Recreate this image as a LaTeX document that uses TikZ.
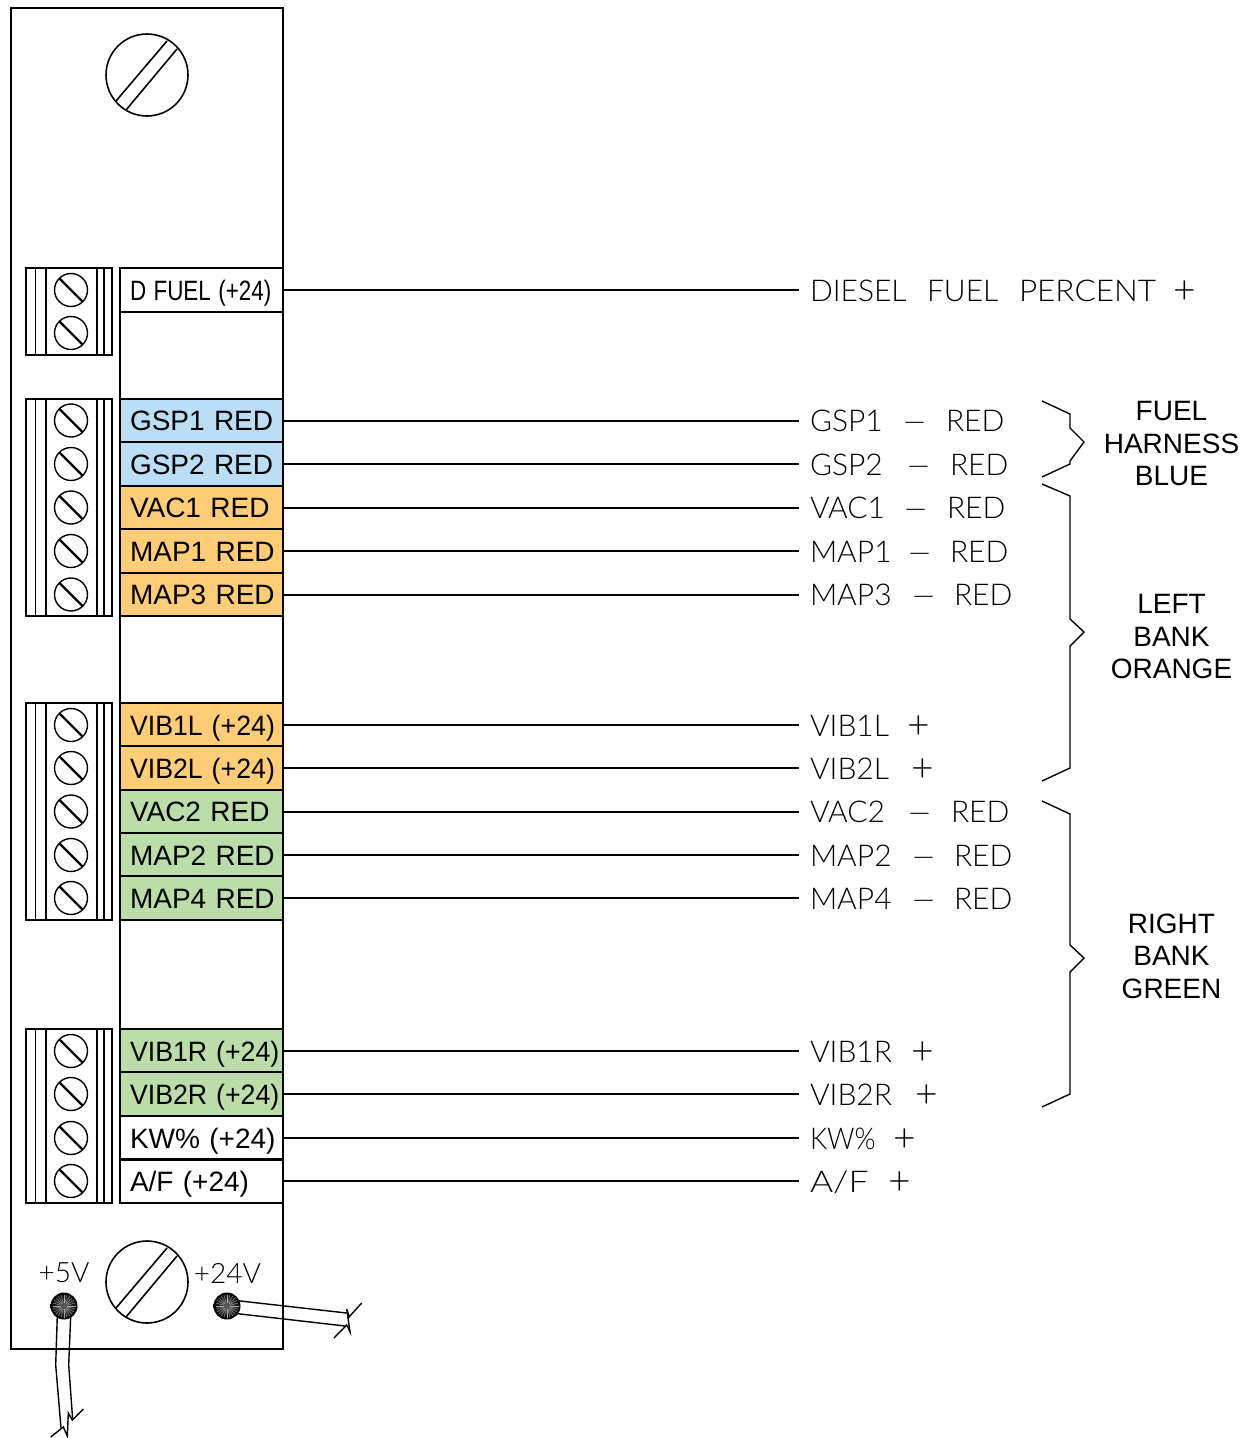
\documentclass[tikz,border=0pt]{standalone}
\usepackage{fontspec}
\setmainfont{Liberation Sans}
\newfontfamily\cadfont{Lato Light}
\usetikzlibrary{calc}
\definecolor{bluefill}{HTML}{BBDEF6}
\definecolor{orangefill}{HTML}{FFCC77}
\definecolor{greenfill}{HTML}{BBDDAA}
\tikzset{
  x=1pt,y=-1pt,
  panelline/.style={line width=1.7pt,draw=black},
  thinline/.style={line width=1.4pt,draw=black},
  conn/.style={line width=1.6pt,draw=black},
  tagbox/.style={draw=black,line width=1.6pt,outer sep=0pt,minimum width=163pt,minimum height=43.5pt,text width=143pt,inner xsep=10pt,inner ysep=0pt,align=left,anchor=west,font=\fontsize{28}{30}\selectfont,text height=20pt,text depth=0pt},
  cadlabel/.style={anchor=west,inner xsep=11pt,inner ysep=0pt,outer sep=0pt,font=\fontsize{30}{32}\cadfont,text height=22pt,text depth=0pt},
  grouplabel/.style={align=center,font=\fontsize{28}{32.4}\selectfont},
  screwhead/.style={circle,draw=black,line width=1.4pt,minimum size=33pt,inner sep=0pt},
  bigscrew/.style={circle,draw=black,line width=1.6pt,minimum size=82pt,inner sep=0pt},
  stud/.style={circle,minimum size=27pt,inner sep=0pt,shading=radial,inner color=gray!75!black,outer color=black},
  smalllabel/.style={font=\fontsize{28}{30}\cadfont},
}
% text at fixed offsets from the label's start
\newcommand{\cadplus}{\raisebox{-2pt}{\scalebox{1.3}{+}}}
\newcommand{\caddash}{\scalebox{1.55}[1]{–}}
\newcommand{\cadred}[3]{\rlap{#1}\hspace{#2pt}\rlap{\caddash}\hspace{#3pt}RED}
\newcommand{\cadpos}[2]{\rlap{#1}\hspace{#2pt}\cadplus}
\newcommand{\tagtxt}[2]{\rlap{\scalebox{#1}[1]{#2}}}
\newcommand{\terminalblock}[2]{%
  \draw[thinline] (26,#1) rectangle (112,#2);
  \foreach \xx in {35.5,46,97,104} \draw[thinline] (\xx,#1) -- (\xx,#2);
}
\newcommand{\screwat}[2]{%
  \node[screwhead] (#1) at (71,#2) {};
  \draw[line width=2.4pt] ($(#1)+(-11.5,-11.5)$) -- ($(#1)+(11.5,11.5)$);
}
\newcommand{\slotted}[1]{%
  \draw[line width=1.6pt] ($(#1)+(-31,26)$) -- ($(#1)+(20,-34)$);
  \draw[line width=1.6pt] ($(#1)+(-21,35)$) -- ($(#1)+(30,-26)$);
}
\newcommand{\studrays}[1]{%
  \foreach \aa in {0,15,...,345}
    \draw[gray!70,line width=.35pt] ($(#1)+(\aa:3)$) -- ($(#1)+(\aa:11.5)$);
}
\begin{document}
\begin{tikzpicture}
\useasboundingbox (0,0) rectangle (1248,1438);
% panel
\draw[panelline] (11,8) rectangle (283,1349);
\draw[thinline] (120,268) -- (120,1203);
% big screws
\node[bigscrew] (topscrew) at (147,75) {};
\slotted{topscrew}
\node[bigscrew] (botscrew) at (147,1282) {};
\slotted{botscrew}
% terminal blocks
\terminalblock{268}{355}
\terminalblock{399}{616}
\terminalblock{703}{920}
\terminalblock{1029}{1203}
\screwat{s1}{290}\screwat{s2}{333}
\screwat{s3}{420.5}\screwat{s4}{464}\screwat{s5}{507.5}\screwat{s6}{551}\screwat{s7}{594.5}
\screwat{s8}{725}\screwat{s9}{768}\screwat{s10}{811.5}\screwat{s11}{855}\screwat{s12}{898}
\screwat{s13}{1051}\screwat{s14}{1094}\screwat{s15}{1138}\screwat{s16}{1181}
% tags
\node[tagbox] (dfuel) at (120,290) {\tagtxt{.80}{D FUEL (+24)}};
\node[tagbox,fill=bluefill] (gsp1) at (120,420.5) {\tagtxt{1}{GSP1 RED}};
\node[tagbox,fill=bluefill] (gsp2) at (120,464) {\tagtxt{1}{GSP2 RED}};
\node[tagbox,fill=orangefill] (vac1) at (120,507.5) {\tagtxt{1}{VAC1 RED}};
\node[tagbox,fill=orangefill] (map1) at (120,551) {\tagtxt{1}{MAP1 RED}};
\node[tagbox,fill=orangefill] (map3) at (120,594.5) {\tagtxt{1}{MAP3 RED}};
\node[tagbox,fill=orangefill] (vib1l) at (120,725) {\tagtxt{.955}{VIB1L (+24)}};
\node[tagbox,fill=orangefill] (vib2l) at (120,768) {\tagtxt{.955}{VIB2L (+24)}};
\node[tagbox,fill=greenfill] (vac2) at (120,811.5) {\tagtxt{1}{VAC2 RED}};
\node[tagbox,fill=greenfill] (map2) at (120,855) {\tagtxt{1}{MAP2 RED}};
\node[tagbox,fill=greenfill] (map4) at (120,898) {\tagtxt{1}{MAP4 RED}};
\node[tagbox,fill=greenfill] (vib1r) at (120,1051) {\tagtxt{.955}{VIB1R (+24)}};
\node[tagbox,fill=greenfill] (vib2r) at (120,1094) {\tagtxt{.955}{VIB2R (+24)}};
\node[tagbox] (kw) at (120,1138) {\tagtxt{1}{KW\% (+24)}};
\node[tagbox] (af) at (120,1181) {\tagtxt{1}{A/F (+24)}};
% right labels
\node[cadlabel] (Ldfuel) at (799,290) {\rlap{DIESEL}\hspace{117pt}\rlap{FUEL}\hspace{92pt}\rlap{\scalebox{1.05}[1]{PERCENT}}\hspace{154pt}\cadplus};
\node[cadlabel] (Lgsp1) at (799,420.5) {\cadred{GSP1}{91}{45}};
\node[cadlabel] (Lgsp2) at (799,464) {\cadred{GSP2}{95}{45}};
\node[cadlabel] (Lvac1) at (799,507.5) {\cadred{VAC1}{92}{45}};
\node[cadlabel] (Lmap1) at (799,551) {\cadred{MAP1}{96}{44}};
\node[cadlabel] (Lmap3) at (799,594.5) {\cadred{MAP3}{100}{44}};
\node[cadlabel] (Lvib1l) at (799,725) {\cadpos{VIB1L}{97}};
\node[cadlabel] (Lvib2l) at (799,768) {\cadpos{VIB2L}{101}};
\node[cadlabel] (Lvac2) at (799,811.5) {\cadred{VAC2}{96}{45}};
\node[cadlabel] (Lmap2) at (799,855) {\cadred{MAP2}{100}{44}};
\node[cadlabel] (Lmap4) at (799,898) {\cadred{MAP4}{100}{44}};
\node[cadlabel] (Lvib1r) at (799,1051) {\cadpos{VIB1R}{101}};
\node[cadlabel] (Lvib2r) at (799,1094) {\cadpos{VIB2R}{105}};
\node[cadlabel] (Lkw) at (799,1138) {\cadpos{\scalebox{.9}[1]{KW\%}}{83}};
\node[cadlabel] (Laf) at (799,1181) {\cadpos{\scalebox{1.18}[1]{A/F}}{78}};
% connectors: same pixel phase on every row
\foreach \n/\m in {dfuel/Ldfuel,gsp1/Lgsp1,gsp2/Lgsp2,vac1/Lvac1,map1/Lmap1,map3/Lmap3,vib1l/Lvib1l,vib2l/Lvib2l,vac2/Lvac2,map2/Lmap2,map4/Lmap4,vib1r/Lvib1r,vib2r/Lvib2r,kw/Lkw,af/Laf}
  \draw[conn] ([yshift=-.2pt]\n.east) -- ([yshift=-.2pt]\m.west);
% braces
\draw[thinline] (1042,401) -- (1070,414) -- (1070,428) -- (1084,442) -- (1070,461) -- (1070,464) -- (1042,477);
\draw[thinline] (1042,484) -- (1070,496) -- (1070,619) -- (1084,632) -- (1070,646) -- (1070,768) -- (1042,781);
\draw[thinline] (1042,801) -- (1070,814) -- (1070,945) -- (1084,958) -- (1070,972) -- (1070,1094) -- (1042,1107);
\node[grouplabel] (g1) at (1171.5,443.5) {FUEL\\HARNESS\\BLUE};
\node[grouplabel] (g2) at (1171.5,636.5) {LEFT\\BANK\\ORANGE};
\node[grouplabel] (g3) at (1171.5,956) {RIGHT\\BANK\\GREEN};
% studs and wires
\node[smalllabel] (p5) at (64,1273) {+5V};
\node[smalllabel] (p24) at (227.5,1273) {+24V};
\draw[thinline] (57.3,1316) -- (55.7,1365) -- (61,1428);
\draw[thinline] (70.7,1316) -- (68.7,1365) -- (72.7,1420);
\draw[thinline] (50.7,1437) -- (63.3,1427) -- (67.3,1436) -- (68.3,1413) -- (72.3,1420) -- (83.3,1409);
\draw[thinline] (236,1300.5) -- (346.7,1313);
\draw[thinline] (236,1313.5) -- (345,1326);
\draw[thinline] (334,1338) -- (346.7,1325) -- (350,1331.7) -- (346.7,1309) -- (349.3,1316.7) -- (361.7,1303);
\node[stud] (st5) at (64,1306) {};
\studrays{st5}
\node[stud] (st24) at (227,1306) {};
\studrays{st24}
\end{tikzpicture}
\end{document}
